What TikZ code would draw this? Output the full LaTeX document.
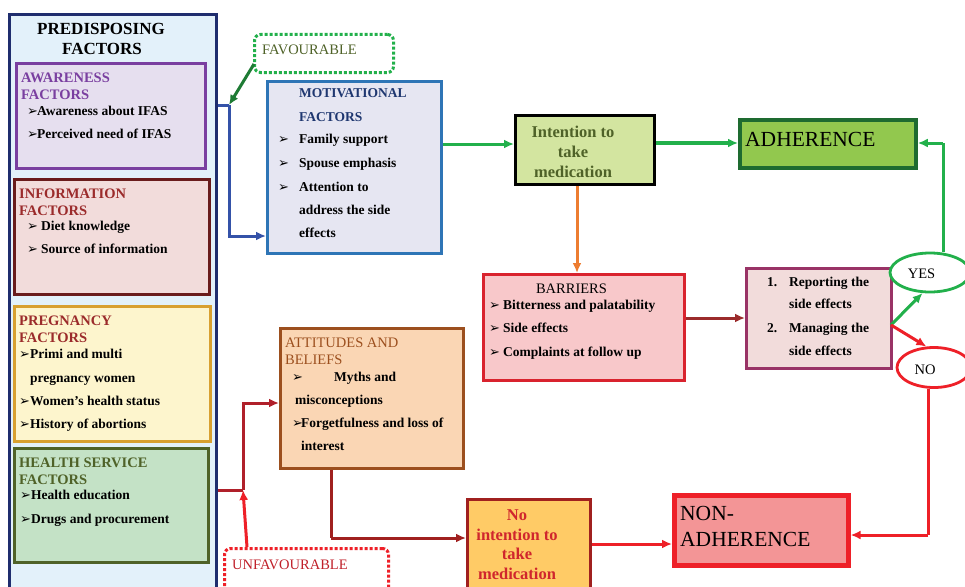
\documentclass[tikz,border=0pt]{standalone}
\usepackage{fontspec}
\setmainfont{Liberation Serif}
\newfontfamily\dejavu{DejaVu Sans}
\usetikzlibrary{arrows.meta,shapes.geometric}
\definecolor{outerfill}{HTML}{E3F1FA}
\definecolor{outerdraw}{HTML}{1F2D6E}
\definecolor{awarefill}{HTML}{E6DFEF}
\definecolor{awaredraw}{HTML}{7A3FA0}
\definecolor{infofill}{HTML}{F2DCDB}
\definecolor{infodraw}{HTML}{6A1C1C}
\definecolor{infotext}{HTML}{9B2B2B}
\definecolor{pregfill}{HTML}{FDF5CD}
\definecolor{pregdraw}{HTML}{D8A030}
\definecolor{healthfill}{HTML}{C4E2C6}
\definecolor{healthdraw}{HTML}{4F6228}
\definecolor{motfill}{HTML}{E6E6F2}
\definecolor{motdraw}{HTML}{2E75B6}
\definecolor{mottext}{HTML}{1F3770}
\definecolor{bluecon}{HTML}{3452A8}
\definecolor{greencon}{HTML}{22B04B}
\definecolor{dkgreen}{HTML}{1E7B34}
\definecolor{intfill}{HTML}{D3E5A0}
\definecolor{olive}{HTML}{4F6228}
\definecolor{adfill}{HTML}{92C84E}
\definecolor{addraw}{HTML}{1E6B30}
\definecolor{orangecon}{HTML}{ED7D31}
\definecolor{barfill}{HTML}{F8C8CA}
\definecolor{bardraw}{HTML}{D9232E}
\definecolor{browncon}{HTML}{9B2B2B}
\definecolor{repfill}{HTML}{F2DCDB}
\definecolor{repdraw}{HTML}{993366}
\definecolor{redcon}{HTML}{EE2028}
\definecolor{nonfill}{HTML}{F39596}
\definecolor{nointfill}{HTML}{FFCB66}
\definecolor{nointdraw}{HTML}{A0201F}
\definecolor{nointtext}{HTML}{D0262D}
\definecolor{attfill}{HTML}{FAD6B4}
\definecolor{attdraw}{HTML}{9C4F1E}
\definecolor{darkred}{HTML}{B0202A}
\definecolor{unfavtext}{HTML}{C0202A}
\newcommand{\blt}{{\dejavu\fontsize{13}{13}\selectfont ➢}}
\newcommand{\bl}[1]{\makebox[#1][l]{\blt}}
\newcommand{\bodyf}{\fontsize{13.5}{16}\selectfont\bfseries}
\newcommand{\headf}{\fontsize{14.5}{17}\selectfont\bfseries}
\newcommand{\regf}{\fontsize{14.5}{17}\selectfont}
\newcommand{\bigf}{\fontsize{16.5}{19}\selectfont\bfseries}
\newcommand{\hugef}{\fontsize{21.5}{24}\selectfont}
\tikzset{
  box/.style={draw, line width=2.8pt, anchor=north west, inner sep=0pt},
  txt/.style={inner sep=0pt, anchor=base west, font=\bodyf},
  ctxt/.style={inner sep=0pt, anchor=base},
  con/.style={line width=3pt, -{Latex[length=10pt,width=9pt]}},
  plain/.style={line width=3pt},
  dotbox/.style={draw, line width=3pt, dash pattern=on 3pt off 2pt, rounded corners=6pt, anchor=north west, inner sep=0pt},
  oval/.style={ellipse, draw, line width=2.8pt, inner sep=0pt}
}
\begin{document}
\begin{tikzpicture}[x=1pt,y=-1pt]
\useasboundingbox (0,0) rectangle (965,586);
\clip (0,0) rectangle (965,586);
\fill[white] (0,0) rectangle (965,586);
% outer predisposing box
\node[box, draw=outerdraw, fill=outerfill, minimum width=207pt, minimum height=600pt] (outer) at (8,13) {};
\node[ctxt, font=\fontsize{17}{20}\selectfont\bfseries] (pt1) at (101,35) {PREDISPOSING};
\node[ctxt, font=\fontsize{17}{20}\selectfont\bfseries] (pt2) at (102,55) {FACTORS};
% awareness
\node[box, draw=awaredraw, fill=awarefill, minimum width=189pt, minimum height=105pt] (aware) at (15,62) {};
\node[txt, font=\headf, text=awaredraw] (aw1) at (21,82) {AWARENESS};
\node[txt, font=\headf, text=awaredraw] (aw2) at (21,99) {FACTORS};
\node[txt] (aw3) at (27,115) {\bl{10pt}Awareness about IFAS};
\node[txt] (aw4) at (27,138) {\bl{10pt}Perceived need of IFAS};
% information
\node[box, draw=infodraw, fill=infofill, minimum width=195pt, minimum height=115pt] (info) at (13,178) {};
\node[txt, font=\headf, text=infotext] (in1) at (19,198) {INFORMATION};
\node[txt, font=\headf, text=infotext] (in2) at (19,215) {FACTORS};
\node[txt] (in3) at (27,230) {\bl{14pt}Diet knowledge};
\node[txt] (in4) at (27,253) {\bl{14pt}Source of information};
% pregnancy
\node[box, draw=pregdraw, fill=pregfill, minimum width=196pt, minimum height=135pt] (preg) at (13,305) {};
\node[txt, font=\headf, text=infotext] (pr1) at (19,325) {PREGNANCY};
\node[txt, font=\headf, text=infotext] (pr2) at (19,342) {FACTORS};
\node[txt] (pr3) at (19,358) {\bl{11pt}Primi and multi};
\node[txt] (pr4) at (30,382) {pregnancy women};
\node[txt] (pr5) at (19,405) {\bl{11pt}Women’s health status};
\node[txt] (pr6) at (19,428) {\bl{11pt}History of abortions};
% health service
\node[box, draw=healthdraw, fill=healthfill, minimum width=194pt, minimum height=114pt] (health) at (13,447) {};
\node[txt, font=\headf, text=olive] (hs1) at (19,467) {HEALTH SERVICE};
\node[txt, font=\headf, text=olive] (hs2) at (19,484) {FACTORS};
\node[txt] (hs3) at (20,499) {\bl{11pt}Health education};
\node[txt] (hs4) at (20,523) {\bl{11pt}Drugs and procurement};
% favourable
\node[dotbox, draw=greencon, minimum width=139pt, minimum height=38pt] (fav) at (253,33) {};
\node[txt, font=\regf, text=olive] (favt) at (262,54) {FAVOURABLE};
% motivational
\node[box, draw=motdraw, fill=motfill, minimum width=174pt, minimum height=172pt] (mot) at (266,80) {};
\node[txt, text=mottext] (mo1) at (299,97) {MOTIVATIONAL};
\node[txt, text=mottext] (mo2) at (299,121) {FACTORS};
\node[txt] (mo3) at (278,143) {\bl{21pt}Family support};
\node[txt] (mo4) at (278,167) {\bl{21pt}Spouse emphasis};
\node[txt] (mo5) at (278,191) {\bl{21pt}Attention to};
\node[txt] (mo6) at (299,214) {address the side};
\node[txt] (mo7) at (299,237) {effects};
% intention
\node[box, draw=black, line width=3.2pt, fill=intfill, minimum width=139pt, minimum height=69pt] (intent) at (514,114) {};
\node[ctxt, font=\bigf, text=olive] (it1) at (573,137) {Intention to};
\node[ctxt, font=\bigf, text=olive] (it2) at (573,157) {take};
\node[ctxt, font=\bigf, text=olive] (it3) at (573,177) {medication};
% adherence
\node[box, draw=addraw, fill=adfill, line width=3.8pt, minimum width=176pt, minimum height=48pt] (adh) at (738,118) {};
\node[txt, font=\hugef] (adht) at (745,146) {ADHERENCE};
% barriers
\node[box, draw=bardraw, fill=barfill, minimum width=201pt, minimum height=106pt] (bar) at (482,273) {};
\node[ctxt, font=\regf] (ba1) at (571.5,293) {BARRIERS};
\node[txt] (ba2) at (489,309) {\bl{14pt}Bitterness and palatability};
\node[txt] (ba3) at (489,332) {\bl{14pt}Side effects};
\node[txt] (ba4) at (489,356) {\bl{14pt}Complaints at follow up};
% reporting
\node[box, draw=repdraw, fill=repfill, minimum width=145pt, minimum height=100pt] (rep) at (745,267) {};
\node[txt] (re1) at (767,286) {\makebox[22pt][l]{1.}Reporting the};
\node[txt] (re2) at (789,308) {side effects};
\node[txt] (re3) at (767,332) {\makebox[22pt][l]{2.}Managing the};
\node[txt] (re4) at (789,355) {side effects};
% yes / no
\node[oval, draw=greencon, fill=white, minimum width=80pt, minimum height=39pt] (yes) at (930,272.5) {};
\node[ctxt, font=\regf] (yest) at (921.5,278) {YES};
\node[oval, draw=redcon, fill=white, minimum width=74pt, minimum height=40pt] (no) at (934,367.5) {};
\node[ctxt, font=\regf] (not) at (925,374) {NO};
% attitudes
\node[box, draw=attdraw, fill=attfill, minimum width=183pt, minimum height=140pt] (att) at (279,327) {};
\node[txt, font=\regf, text=attdraw] (at1) at (285,347) {ATTITUDES AND};
\node[txt, font=\regf, text=attdraw] (at2) at (285,364) {BELIEFS};
\node[txt] (at3) at (292,381) {\bl{42pt}Myths and};
\node[txt] (at4) at (295,404) {misconceptions};
\node[txt] (at5) at (292,427) {\bl{9pt}Forgetfulness and loss of};
\node[txt] (at6) at (301,450) {interest};
% no intention
\node[box, draw=nointdraw, fill=nointfill, minimum width=123pt, minimum height=100pt] (noint) at (466,498) {};
\node[ctxt, font=\bigf, text=nointtext] (ni1) at (517,520) {No};
\node[ctxt, font=\bigf, text=nointtext] (ni2) at (517,540) {intention to};
\node[ctxt, font=\bigf, text=nointtext] (ni3) at (517,559) {take};
\node[ctxt, font=\bigf, text=nointtext] (ni4) at (517,579) {medication};
% non-adherence
\node[box, draw=redcon, fill=nonfill, line width=4.6pt, minimum width=174pt, minimum height=70pt] (nonadh) at (672,493) {};
\node[txt, font=\hugef] (na1) at (680,520) {NON-};
\node[txt, font=\hugef] (na2) at (680,546) {ADHERENCE};
% unfavourable
\node[dotbox, draw=redcon, minimum width=164pt, minimum height=50pt] (unfav) at (223,547) {};
\node[txt, font=\regf, text=unfavtext] (unft) at (232,569) {UNFAVOURABLE};
% connectors
\coordinate (bj) at (229,105);
\draw[plain, draw=bluecon] (outer.east |- bj) -- (bj);
\draw[con, draw=bluecon] (bj) |- (mot.west |- 0,236);
\draw[con, draw=dkgreen] ([xshift=1pt,yshift=-31pt]fav.north west) -- (bj);
\draw[con, draw=greencon] (mot.east |- 0,144) -- (intent.west |- 0,144);
\draw[con, draw=greencon, line width=3.6pt] (intent.east |- 0,143) -- (adh.west |- 0,143);
\draw[con, draw=orangecon] (intent.south -| 577,0) -- (bar.north -| 577,0);
\draw[con, draw=browncon] (bar.east |- 0,318) -- (rep.west |- 0,318);
\coordinate (rj) at (891,325);
\draw[con, draw=greencon] (rj) -- (yes.250);
\draw[con, draw=redcon] (rj) -- (no.110);
\coordinate (yc) at (943,143);
\draw[plain, draw=greencon] ([xshift=13pt]yes.north) -- (yc);
\draw[con, draw=greencon] (yc) -- (adh.east |- yc);
\coordinate (nc) at (928,535);
\draw[plain, draw=redcon] ([xshift=-6pt]no.south) -- (nc);
\draw[con, draw=redcon] (nc) -- (nonadh.east |- nc);
\draw[con, draw=redcon] (noint.east |- 0,544) -- (nonadh.west |- 0,544);
\coordinate (aj) at (331,538);
\draw[plain, draw=nointdraw] (att.south -| aj) -- (aj);
\draw[con, draw=nointdraw] (aj) -- (noint.west |- aj);
\coordinate (uj) at (243,490);
\draw[plain, draw=darkred] (outer.east |- uj) -- (uj);
\draw[con, draw=darkred] (uj) |- (att.west |- 0,403);
\draw[con, draw=redcon] ([xshift=24pt]unfav.north west) -- (uj);
\end{tikzpicture}
\end{document}
